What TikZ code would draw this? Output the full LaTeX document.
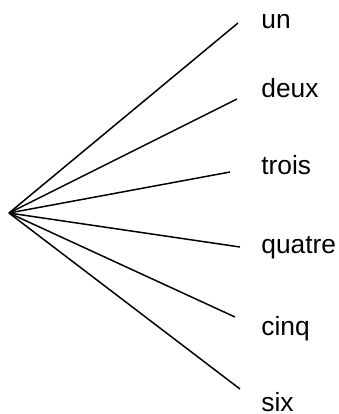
\documentclass[tikz,border=0pt]{standalone}
\usepackage{fontspec}
\setmainfont{Liberation Sans}
\usetikzlibrary{positioning}

\begin{document}
\begin{tikzpicture}[x=0.02cm, y=-0.02cm,
  leaf/.style={anchor=base west, inner sep=0pt, font=\fontsize{15}{18}\selectfont},
  branch/.style={line width=0.85pt}]
\useasboundingbox (0,0) rectangle (339,414);
% Define nodes
\coordinate (root) at (9,213);
\node[leaf] (un) at (261,28) {un};
\node[leaf] (deux) at (261,97) {deux};
\node[leaf] (trois) at (261,174) {trois};
\node[leaf] (quatre) at (261,253) {quatre};
\node[leaf] (cinq) at (261,335) {cinq};
\node[leaf] (six) at (261,411) {six};

% Branch ends
\coordinate (e1) at (238,23);
\coordinate (e2) at (237,99);
\coordinate (e3) at (230,172);
\coordinate (e4) at (240,247);
\coordinate (e5) at (235,317);
\coordinate (e6) at (240,389);

% Draw branches
\foreach \i in {1,...,6}
  \draw[branch] (root) -- (e\i);

\end{tikzpicture}
\end{document}
